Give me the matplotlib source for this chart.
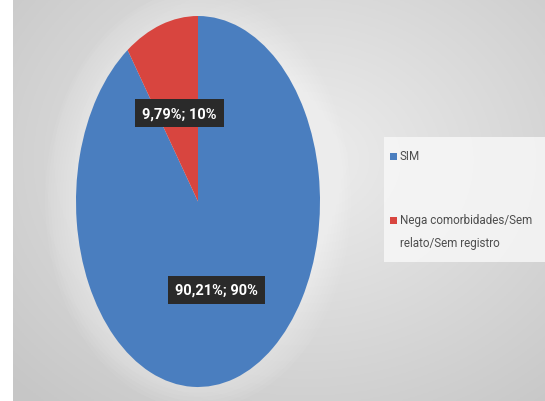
import numpy as np
import matplotlib
matplotlib.use("Agg")
import matplotlib.pyplot as plt
from matplotlib.patches import Rectangle, Ellipse

categories = ["SIM", "Nega comorbidades/Sem\nrelato/Sem registro"]
values = [90.21, 9.79]
colors = ["#4a7ebf", "#d8453f"]

fam = ["Roboto", "DejaVu Sans"]

W, H = 545, 402
fig = plt.figure(figsize=(W / 100, H / 100), dpi=100)
fig.patch.set_facecolor("white")

# background gradient
bg = fig.add_axes([13 / W, 0, 1 - 13 / W, 1], zorder=0)
yy, xx = np.mgrid[0:1:200j, 0:1:300j]
d = np.sqrt(((xx - 0.55) / 0.75) ** 2 + ((yy - 0.6) / 0.8) ** 2)
g = 0.93 - 0.15 * np.clip(d, 0, 1)
bg.imshow(np.dstack([g, g, g]), aspect="auto", extent=[0, 1, 0, 1], origin="lower")
bg.axis("off")

# soft white glow behind pie
glow = fig.add_axes([45 / W, -8 / H, 306 / W, 418 / H], zorder=1)
glow.set_xlim(-1, 1); glow.set_ylim(-1, 1); glow.axis("off")
for r in np.linspace(1.0, 0.75, 14):
    glow.add_patch(Ellipse((0, 0), 2 * r, 2 * r, color="white", alpha=0.05, lw=0))

ax = fig.add_axes([76 / W, (H - 388) / H, 244 / W, 371 / H], zorder=2)
wedges, texts, autotexts = ax.pie(
    values, colors=colors, startangle=90, counterclock=False,
    autopct=lambda p: (f"{p:.2f}%; {p:.0f}%").replace(".", ","),
    pctdistance=0.5, wedgeprops=dict(linewidth=0),
)
ax.set_aspect("auto")
ax.set_xlim(-1, 1); ax.set_ylim(-1, 1)
for t in autotexts:
    t.set_color("white")
    t.set_fontsize(10.5)
    t.set_fontweight("bold")
    t.set_family(fam)
    t.set_bbox(dict(facecolor="#2a2a2a", edgecolor="none", pad=5))

# legend drawn manually (figure pixel layout)
def fx(px):
    return px / W

def fy(py):
    return 1 - py / H

fig.patches.append(Rectangle((fx(384), fy(263)), fx(545) - fx(384), fy(138) - fy(263),
                             transform=fig.transFigure, facecolor="#f7f7f7", alpha=0.85,
                             edgecolor="none", zorder=3))
entry_y = [157, 221]
for c, lab, py in zip(colors, categories, entry_y):
    s = 7
    fig.patches.append(Rectangle((fx(390), fy(py + s / 2)), s / W, s / H,
                                 transform=fig.transFigure, facecolor=c,
                                 edgecolor="none", zorder=4))
    fig.text(fx(400), fy(py - 7), lab, ha="left", va="top", fontsize=8.4,
             family=fam, color="#4d4d4d", linespacing=2.05, zorder=4)

fig.savefig("out.png", dpi=100)
